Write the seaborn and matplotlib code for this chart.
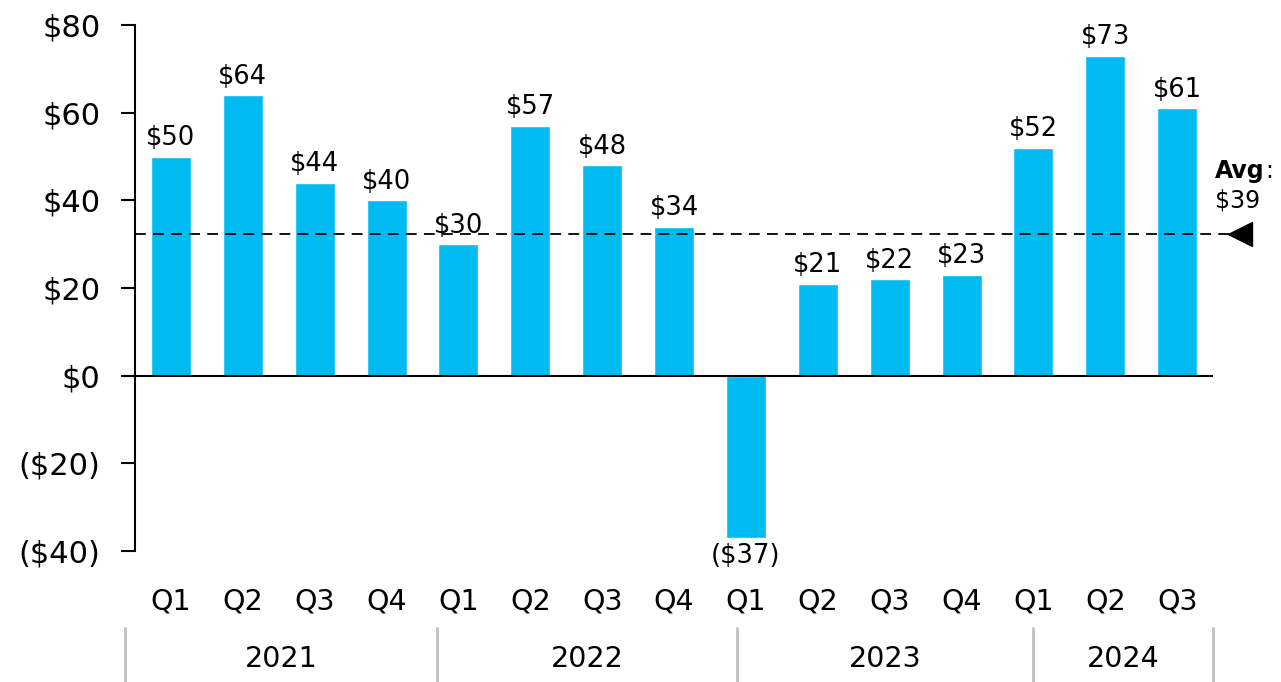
import numpy as np
import pandas as pd
import matplotlib
matplotlib.use("Agg")
import matplotlib.pyplot as plt
import matplotlib.transforms as mtransforms
import seaborn as sns

# dados do grafico
quarters = ["Q1", "Q2", "Q3", "Q4", "Q1", "Q2", "Q3", "Q4",
            "Q1", "Q2", "Q3", "Q4", "Q1", "Q2", "Q3"]
values = [50, 64, 44, 40, 30, 57, 48, 34, -37, 21, 22, 23, 52, 73, 61]
years = ["2021", "2022", "2023", "2024"]
year_edges = [-0.64, 3.70, 7.88, 12.0, 14.5]   # separadores entre anos (posicao x)
avg_label = "$39"
avg_line = 32.3                                 # linha tracejada como desenhada
y_ticks = [-40, -20, 0, 20, 40, 60, 80]

def fmt(v):
    return f"(${abs(v)})" if v < 0 else f"${v}"

sns.set_style("white")
plt.rcParams["font.family"] = ["DejaVu Sans"]
plt.rcParams["text.color"] = "black"
plt.rcParams["xtick.color"] = "black"
plt.rcParams["ytick.color"] = "black"

bar_color = "#00BBF2"

fig = plt.figure(figsize=(12.81, 6.82), dpi=100)
ax = fig.add_axes([0.1054, 0.192, 0.8416, 0.7713])

df = pd.DataFrame({"pos": list(range(len(values))), "valor": values})
sns.barplot(data=df, x="pos", y="valor", color=bar_color, width=0.557,
            saturation=1, ax=ax)

ax.set_xlim(-0.5, 14.5)
ax.set_ylim(-40, 80)
ax.set_yticks(y_ticks)
ax.set_yticklabels([fmt(t) for t in y_ticks], fontsize=22)
ax.set_xticks(range(len(quarters)))
ax.set_xticklabels(quarters, fontsize=20.5)
ax.set_xlabel("")
ax.set_ylabel("")

for s in ["top", "right", "bottom"]:
    ax.spines[s].set_visible(False)
ax.spines["left"].set_linewidth(1.5)
ax.spines["left"].set_color("black")
ax.tick_params(axis="y", left=True, direction="out", length=10, width=1.5,
               pad=15, colors="black")
ax.tick_params(axis="x", bottom=False, length=0, pad=26, colors="black")
ax.axhline(0, color="black", lw=1.5, zorder=3)

# rotulos das barras
for i, v in enumerate(values):
    if v >= 0:
        ax.annotate(fmt(v), (i, v), xytext=(0, 4), textcoords="offset points",
                    ha="center", va="bottom", fontsize=18.5)
    else:
        ax.annotate(fmt(v), (i, v), xytext=(0, -4), textcoords="offset points",
                    ha="center", va="top", fontsize=18.5)

# linha de media
ax.plot([-0.5, 14.72], [avg_line, avg_line], color="black", lw=1.3,
        ls=(0, (6, 4)), clip_on=False, zorder=4)
ax.plot([14.88], [avg_line], marker="<", color="black", markersize=17,
        clip_on=False, zorder=4)
t_avg = ax.text(14.53, 46.6, "Avg", fontsize=17, fontweight="bold",
                ha="left", va="center")
ax.annotate(":", xy=(1, 0.5), xycoords=t_avg, fontsize=17,
            ha="left", va="center")
ax.text(14.53, 40.0, avg_label, fontsize=17, ha="left", va="center")

# anos e separadores
trans = mtransforms.blended_transform_factory(ax.transData, ax.transAxes)
for e in year_edges:
    ax.plot([e, e], [-0.146, -0.249], color="#c0c0c0", lw=2,
            transform=trans, clip_on=False)
for k, yr in enumerate(years):
    mid = (year_edges[k] + year_edges[k + 1]) / 2
    ax.text(mid, -0.205, yr, transform=trans, ha="center", va="center", fontsize=20.5)

fig.savefig("out.png", dpi=100)
